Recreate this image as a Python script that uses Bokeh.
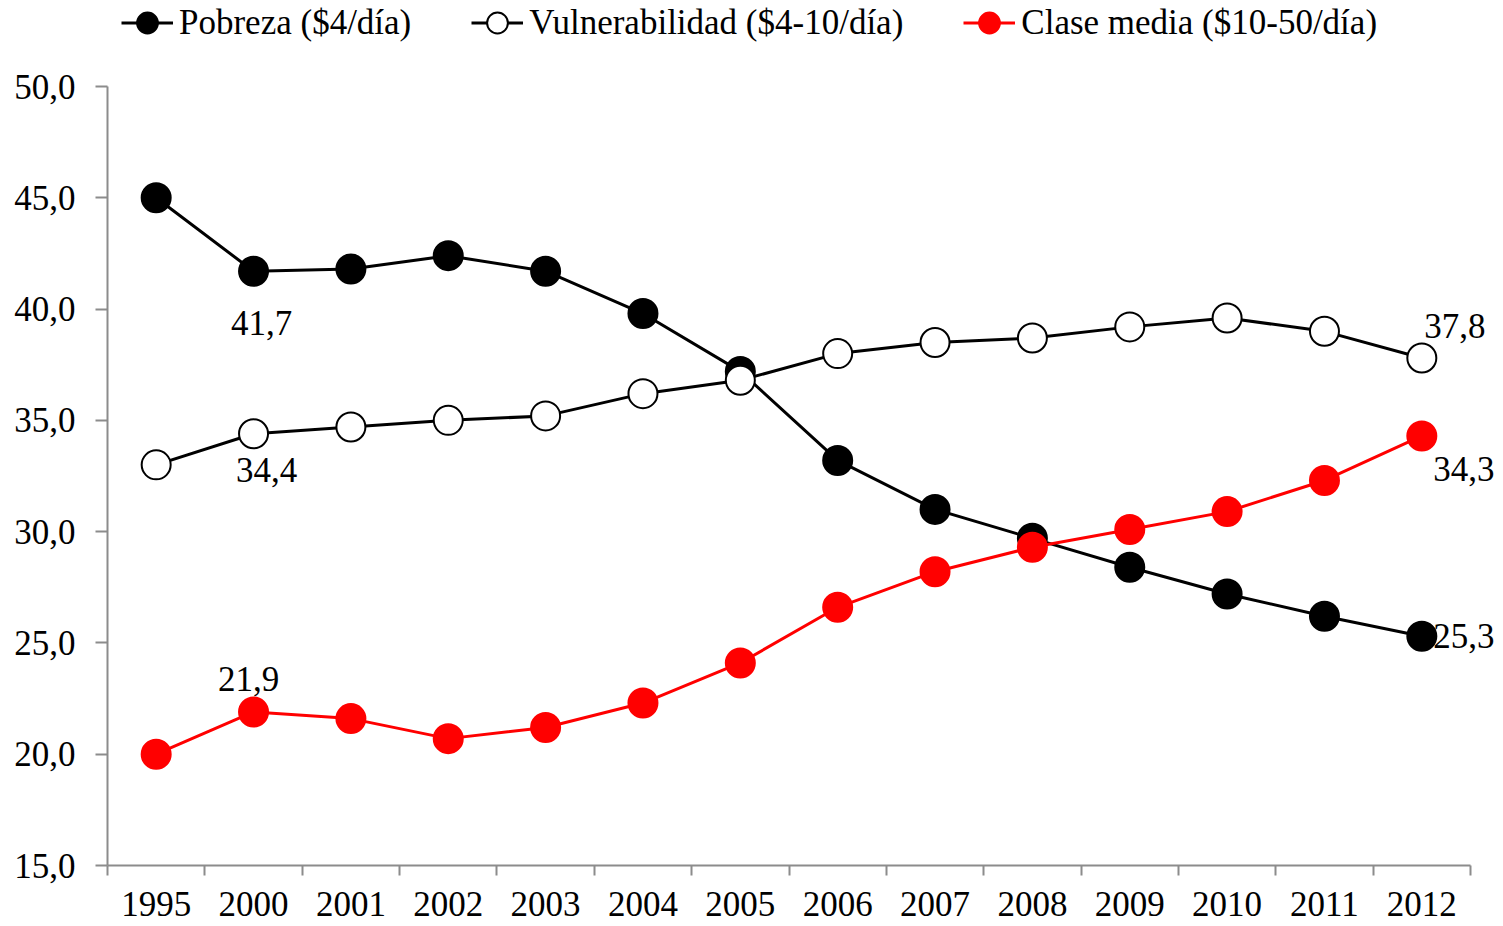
from bokeh.plotting import figure
from bokeh.models import Range1d, FixedTicker, Legend, LegendItem, ColumnDataSource
from bokeh.embed import file_html
from bokeh.resources import INLINE
from bokeh.core.properties import value

# ---- data ----
years = ["1995", "2000", "2001", "2002", "2003", "2004", "2005",
         "2006", "2007", "2008", "2009", "2010", "2011", "2012"]
pobreza = [45.0, 41.7, 41.8, 42.4, 41.7, 39.8, 37.2, 33.2, 31.0, 29.7, 28.4, 27.2, 26.2, 25.3]
vulnerabilidad = [33.0, 34.4, 34.7, 35.0, 35.2, 36.2, 36.8, 38.0, 38.5, 38.7, 39.2, 39.6, 39.0, 37.8]
clase_media = [20.0, 21.9, 21.6, 20.7, 21.2, 22.3, 24.1, 26.6, 28.2, 29.3, 30.1, 30.9, 32.3, 34.3]
series_names = ["Pobreza ($4/día)", "Vulnerabilidad ($4-10/día)", "Clase media ($10-50/día)"]
y_ticks = [15, 20, 25, 30, 35, 40, 45, 50]
y_min, y_max = 15, 50

FONT = "Liberation Serif"
FS = "35px"
AXIS_GRAY = "#8c8c8c"

# ---- layout (pixels) ----
W, H = 1495, 926
LEFT, BOTTOM = 107, 61
AXIS_W = 1363          # pixel length of the x axis
AXIS_TOP = 86          # pixel position of the top of the y axis
frame_w = W - LEFT
frame_h = H - BOTTOM
n = len(years)
x_end = -0.5 + n * frame_w / AXIS_W
y_end = y_min + (y_max - y_min) * frame_h / (frame_h - AXIS_TOP)

xs = list(range(n))

p = figure(width=W, height=H, output_backend="svg", toolbar_location=None,
           x_range=Range1d(-0.5, x_end), y_range=Range1d(y_min, y_end),
           min_border_left=LEFT, min_border_right=0, min_border_top=0, min_border_bottom=BOTTOM)
p.outline_line_color = None
p.xgrid.visible = False
p.ygrid.visible = False
p.background_fill_color = "white"

# axes
xa = p.xaxis[0]
xa.bounds = (-0.5, n - 0.5)
xa.ticker = FixedTicker(ticks=xs, minor_ticks=[i - 0.5 for i in range(n + 1)])
xa.major_label_overrides = {i: y for i, y in enumerate(years)}
xa.major_tick_out = 0
xa.major_tick_in = 0
xa.minor_tick_out = 10
xa.minor_tick_in = 0
xa.minor_tick_line_color = AXIS_GRAY
xa.minor_tick_line_width = 2
xa.axis_line_color = AXIS_GRAY
xa.axis_line_width = 2
xa.major_label_text_font = FONT
xa.major_label_text_font_size = FS
xa.major_label_text_color = "black"
xa.major_label_standoff = 16

ya = p.yaxis[0]
ya.bounds = (y_min, y_max)
ya.ticker = FixedTicker(ticks=y_ticks, minor_ticks=[])
ya.major_label_overrides = {t: f"{t:.1f}".replace(".", ",") for t in y_ticks}
ya.major_tick_out = 12
ya.major_tick_in = 0
ya.major_tick_line_color = AXIS_GRAY
ya.major_tick_line_width = 2
ya.minor_tick_out = 0
ya.minor_tick_in = 0
ya.axis_line_color = AXIS_GRAY
ya.axis_line_width = 2
ya.major_label_text_font = FONT
ya.major_label_text_font_size = FS
ya.major_label_text_color = "black"
ya.major_label_standoff = 20

# series
l1 = p.line(xs, pobreza, line_color="black", line_width=3)
s1 = p.scatter(xs, pobreza, size=29, fill_color="black", line_color="black", line_width=2)
l2 = p.line(xs, vulnerabilidad, line_color="black", line_width=3)
s2 = p.scatter(xs, vulnerabilidad, size=29, fill_color="white", line_color="black", line_width=2)
l3 = p.line(xs, clase_media, line_color="#ff0000", line_width=3)
s3 = p.scatter(xs, clase_media, size=29, fill_color="#ff0000", line_color="#ff0000", line_width=2)

# data labels
lab_series = [pobreza, vulnerabilidad, clase_media, pobreza, vulnerabilidad, clase_media]
lab_index = [1, 1, 1, 13, 13, 13]
lab_dx = [8, 13, -5, 42, 33, 42]
lab_dy = [52, 36, -33, 0, -32, 33]
src = ColumnDataSource(dict(
    x=lab_index,
    y=[s[i] for s, i in zip(lab_series, lab_index)],
    t=[f"{s[i]:.1f}".replace(".", ",") for s, i in zip(lab_series, lab_index)],
    dx=lab_dx, dy=lab_dy))
p.text(x="x", y="y", text="t", x_offset="dx", y_offset="dy", source=src,
       text_font=value(FONT), text_font_size=FS, text_color="black",
       text_align="center", text_baseline="middle")

legend = Legend(items=[LegendItem(label=series_names[0], renderers=[l1, s1]),
                       LegendItem(label=series_names[1], renderers=[l2, s2]),
                       LegendItem(label=series_names[2], renderers=[l3, s3])],
                orientation="horizontal", location=(14, frame_h - 50),
                glyph_width=52, glyph_height=55, spacing=60, label_standoff=6,
                padding=0, margin=0, border_line_color=None, background_fill_alpha=0,
                label_text_font=FONT, label_text_font_size=FS, label_text_color="black")
p.add_layout(legend)

open("out.html", "w").write(file_html(p, INLINE))
